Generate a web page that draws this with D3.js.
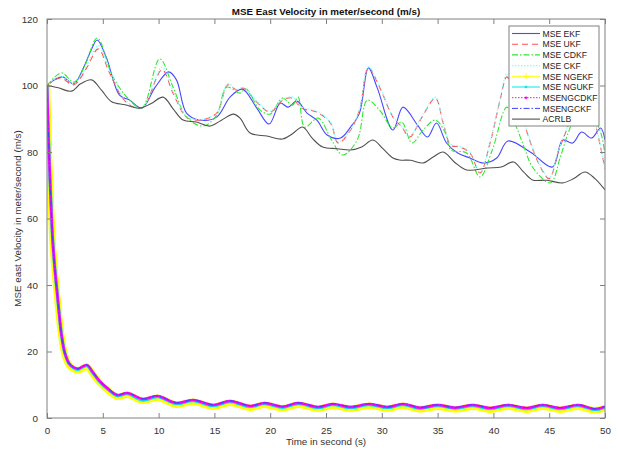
<!DOCTYPE html>
<html>
<head>
<meta charset="utf-8">
<script src="https://cdn.jsdelivr.net/npm/d3@7.9.0/dist/d3.min.js"></script>
<style>
  body { margin: 0; background: #fff; }
  svg { font-family: "Liberation Sans", Arial, sans-serif; }
</style>
</head>
<body>
<svg id="chart" width="619" height="450"></svg>
<script>
// upper curves: [time, mse]
const ekf = [[0,100],[0.7,101.8],[1.4,102.6],[2.4,100.5],[3.3,105.6],[4.0,111],[4.5,113.7],[5.3,108.6],[6.5,97.1],[7.4,95.6],[8.5,93.2],[9.7,99.5],[10.9,104.1],[11.6,101.7],[12.5,91.7],[13.7,89.6],[15.2,90.5],[16.4,96.5],[17.5,98.9],[18.8,93.2],[19.9,88.4],[20.9,94.7],[21.6,93.5],[22.4,95.3],[23.3,91.7],[24.2,89.5],[25.1,85.1],[26.3,84.2],[27.2,87.5],[28.0,91.7],[28.8,105.3],[29.6,99.2],[31.0,86.6],[31.9,93.5],[33.2,88.1],[34.1,84.5],[34.9,88.7],[35.8,82.7],[36.8,79.7],[37.9,78.2],[39.1,76.7],[40.3,78.2],[41.3,83.3],[43.3,80],[45.3,75.5],[46.2,83.6],[47.1,82.7],[47.9,86],[48.8,84.2],[49.6,87.2],[50,83.6]];
const ukf = [[0,100],[1.2,102.3],[2.4,100.2],[3.5,105],[4.6,111],[5.6,103.8],[7.1,95],[8.5,93.2],[10.3,104.7],[11.3,97.7],[12.5,90.5],[13.7,89.6],[15.2,91.7],[16.2,100.2],[17.0,98.6],[17.6,99.2],[18.8,95],[20.0,92],[21.1,95.6],[22.0,96.2],[22.8,93.2],[24.2,92],[25.4,88.7],[26.1,82.7],[27.2,86.6],[28.0,92.6],[28.8,105.3],[29.8,99.5],[31.0,90.5],[31.8,87.5],[32.5,84.5],[33.6,90.5],[34.8,96.2],[35.5,88.7],[36.2,82],[37.0,81.5],[37.9,79.7],[38.8,73.7],[39.7,82.7],[40.6,95.6],[41.2,102.6],[42.0,96],[43.0,86],[44.0,77],[45.0,72],[45.8,80],[46.6,87],[47.5,95],[48.5,96],[49.3,86],[50,75]];
const cdkf = [[0,100],[1.3,103.8],[2.4,101],[3.4,106],[4.5,114.3],[5.9,102.6],[7.4,95.6],[8.5,93.2],[10.1,108],[11.3,99.5],[12.5,90.5],[14.0,87.8],[15.2,91.1],[16.1,99.5],[17.3,97.7],[17.8,99],[19.1,92.6],[20.0,91.4],[21.1,96.2],[22.0,94.1],[22.5,96.5],[23.1,87.5],[24.3,90.2],[25.5,83.6],[26.5,79.1],[27.8,83.6],[28.7,95.6],[29.8,92.6],[31.0,87.2],[31.8,89],[32.7,82.7],[33.7,86.6],[34.8,89.6],[35.7,85.7],[36.2,80.6],[37.6,79.7],[38.8,72.5],[39.9,80.6],[41.2,93.5],[42.0,88],[42.8,81],[43.5,75.5],[45.1,70.7],[46.0,78.5],[46.7,85.7],[47.6,92],[48.6,92],[49.6,86],[50,79]];
const ckf = [[0,100],[1.2,102.8],[2.4,100.6],[3.5,105.5],[4.6,112],[5.6,104.5],[7.1,95.3],[8.5,93.2],[10.3,105.5],[11.3,98.2],[12.5,90.8],[13.7,89.8],[15.2,91.8],[16.2,100.5],[17.0,98.8],[17.6,99.4],[18.8,95.2],[20.0,92.3],[21.1,95.8],[22.0,96.5],[22.8,93.5],[24.2,92.2],[25.4,88.9],[26.1,83],[27.2,86.8],[28.0,92.8],[28.8,105.6],[29.8,99.8],[31.0,90.7],[31.8,87.8],[32.5,84.8],[33.6,90.8],[34.8,96.5],[35.5,88.9],[36.2,82.3],[37.0,81.7],[37.9,79.9],[38.8,74],[39.7,83],[40.6,96],[41.2,103.5],[42.0,96.5],[43.0,86.3],[44.0,77.3],[45.0,72.3],[45.8,80.3],[46.6,87.3],[47.5,95.3],[48.5,96.3],[49.3,86.3],[50,75.3]];
const acrlb = [[0,100],[1.0,99.3],[2.2,98.3],[3.0,100.5],[4.0,101.7],[4.9,98.5],[5.8,95.1],[7.0,94.2],[8.3,93.2],[9.3,94.5],[10.4,96.5],[11.3,93],[12.2,89.6],[13.4,89],[14.6,87.8],[15.6,89.5],[16.7,91.4],[17.3,90.2],[18.2,85.7],[19.7,84.8],[21.1,83.9],[22.0,85.5],[22.9,87.5],[23.8,84],[24.7,81.5],[26.0,81],[27.2,80.6],[28.2,81.5],[29.2,83.6],[30.1,81],[31.0,78.2],[31.6,77.6],[32.6,77.5],[33.7,76.7],[34.6,78.5],[35.5,80],[36.5,77],[37.6,74.6],[39.5,75.2],[40.7,75.5],[41.8,77],[42.7,74],[43.5,71.6],[44.8,71.5],[46.2,70.7],[47.2,72],[48.2,74],[49.1,72],[50,68.6]];

// lower (NG) curves share one time base
const ngTime = [0,0.1,0.2,0.3,0.4,0.5,0.7,0.9,1.1,1.3,1.6,2.0,2.4,2.8,3.2,3.6,4.1,4.7,5.4,6.3,7.2,8.6,9.9,11.6,13.1,14.9,16.4,18.2,19.5,21.1,22.5,24.3,25.6,27.2,28.9,30.5,31.9,33.4,35.0,36.6,38.2,39.7,41.3,43.0,44.4,46.0,47.6,49.1,50];
const ngekf = [100,87,77,68,60,53,44,37,30,24.5,19,15.8,14.7,14.3,15,15.4,13.3,10.7,8.5,6.4,7.0,5.2,6.1,4.0,4.9,3.4,4.6,3.1,4.0,2.9,4.0,2.8,3.7,2.8,3.7,2.8,3.7,2.6,3.4,2.6,3.4,2.5,3.4,2.5,3.4,2.5,3.4,2.3,3.0];
const ngukf = [100,88,78,69,61,54,45,38,31,25,19.5,16.2,15.0,14.6,15.3,15.7,13.6,11.0,8.8,6.7,7.3,5.4,6.4,4.3,5.2,3.7,4.9,3.4,4.3,3.2,4.3,3.1,4.0,3.1,4.0,3.1,4.0,2.9,3.7,2.9,3.7,2.8,3.7,2.8,3.7,2.8,3.7,2.5,3.2];
const ngcdkf = [100,88,78,69,61,54,45,38,31,25,19.5,16.3,15.2,14.8,15.5,15.9,13.8,11.2,9,6.9,7.5,5.7,6.6,4.5,5.4,3.9,5.1,3.6,4.5,3.4,4.5,3.3,4.2,3.3,4.2,3.3,4.2,3.1,3.9,3.1,3.9,3.0,3.9,3.0,3.9,3.0,3.9,2.7,3.4];
const ngckf = [100,88,78,69,61,54,45,38,31,25,19.5,16.4,15.3,14.9,15.6,16.0,13.9,11.3,9.1,7.0,7.6,5.8,6.7,4.6,5.5,4.0,5.2,3.7,4.6,3.5,4.6,3.4,4.3,3.4,4.3,3.4,4.3,3.2,4.0,3.2,4.0,3.1,4.0,3.1,4.0,3.1,4.0,2.8,3.5];

const xTicks = d3.range(0, 51, 5);
const yTicks = d3.range(0, 121, 20);
const legendNames = ['MSE EKF','MSE UKF','MSE CDKF','MSE CKF','MSE NGEKF','MSE NGUKF','MSENGCDKF','MSENGCKF','ACRLB'];

const W = 619, H = 450;
const m = {top: 19, right: 14, bottom: 32, left: 47};
const svg = d3.select('#chart');

const x = d3.scaleLinear().domain([0, 50]).range([m.left, W - m.right]);
const y = d3.scaleLinear().domain([0, 120]).range([H - m.bottom, m.top]);

const axisCol = '#808080', textCol = '#333';

// each series: data + style
const series = [
  {data: ekf, color: '#4848ff', w: 1.1, dash: null},
  {data: ukf, color: '#ff5050', w: 1.1, dash: '6,4'},
  {data: cdkf, color: '#30e830', w: 1.1, dash: '6,2,1.5,2'},
  {data: ckf, color: '#80ffff', w: 1.1, dash: '1.5,1.5'},
  {data: ngTime.map((t,i)=>[t, ngekf[i]]), color: '#ffff00', w: 6.5, dash: null},
  {data: ngTime.map((t,i)=>[t, ngukf[i]]), color: '#00e8e8', w: 3.2, dash: null},
  {data: ngTime.map((t,i)=>[t, ngcdkf[i]]), color: '#ff00ff', w: 2.6, dash: null},
  {data: ngTime.map((t,i)=>[t, ngckf[i]]), color: '#4040ff', w: 1, dash: '6,2,1.5,2'},
  {data: acrlb, color: '#505050', w: 1.1, dash: null}
];

const line = d3.line()
  .x(d => x(d[0]))
  .y(d => y(d[1]))
  .curve(d3.curveCatmullRom.alpha(0.5));

svg.append('defs').append('clipPath').attr('id','clip')
  .append('rect').attr('x', m.left).attr('y', m.top)
  .attr('width', W - m.left - m.right).attr('height', H - m.top - m.bottom);

const plot = svg.append('g').attr('clip-path','url(#clip)');
series.forEach(s => {
  plot.append('path')
    .attr('d', line(s.data))
    .attr('fill','none')
    .attr('stroke', s.color)
    .attr('stroke-width', s.w)
    .attr('stroke-dasharray', s.dash);
});

// box + inward ticks on all four sides
svg.append('rect').attr('x', m.left).attr('y', m.top)
  .attr('width', W - m.left - m.right).attr('height', H - m.top - m.bottom)
  .attr('fill','none').attr('stroke', axisCol).attr('stroke-width', 1);

const bottomAxis = d3.axisBottom(x).tickValues(xTicks).tickSizeInner(-5).tickSizeOuter(0).tickPadding(9);
const topAxis = d3.axisTop(x).tickValues(xTicks).tickSizeInner(-5).tickSizeOuter(0).tickFormat('');
const leftAxis = d3.axisLeft(y).tickValues(yTicks).tickSizeInner(-5).tickSizeOuter(0).tickPadding(9);
const rightAxis = d3.axisRight(y).tickValues(yTicks).tickSizeInner(-5).tickSizeOuter(0).tickFormat('');

function styleAxis(g) {
  g.select('.domain').remove();
  g.selectAll('.tick line').attr('stroke', axisCol);
  g.selectAll('.tick text').attr('fill', textCol).attr('font-size', 9.8)
    .attr('font-family', '"Liberation Sans", Arial, sans-serif');
}
svg.append('g').attr('transform', `translate(0,${H - m.bottom})`).call(bottomAxis).call(styleAxis);
svg.append('g').attr('transform', `translate(0,${m.top})`).call(topAxis).call(styleAxis);
svg.append('g').attr('transform', `translate(${m.left},0)`).call(leftAxis).call(styleAxis);
svg.append('g').attr('transform', `translate(${W - m.right},0)`).call(rightAxis).call(styleAxis);

// title and axis labels
const cx = (m.left + W - m.right) / 2;
svg.append('text').attr('x', cx).attr('y', 15).attr('text-anchor','middle')
  .attr('font-size', 9.8).attr('font-weight','bold').attr('fill','#111')
  .text('MSE East Velocity in meter/second (m/s)');
svg.append('text').attr('x', cx).attr('y', 445).attr('text-anchor','middle')
  .attr('font-size', 9.8).attr('fill', textCol)
  .text('Time in second (s)');
svg.append('text')
  .attr('transform', `translate(21,${(m.top + H - m.bottom) / 2}) rotate(-90)`)
  .attr('text-anchor','middle').attr('font-size', 9.8).attr('fill', textCol)
  .text('MSE east Velocity in meter/second (m/s)');

// legend
const lg = svg.append('g').attr('transform','translate(509,26)');
lg.append('rect').attr('width', 90).attr('height', 100)
  .attr('fill','#fff').attr('stroke','#808080').attr('stroke-width', 1);
const legendStyle = series.map((s, i) => ({
  color: s.color,
  dash: s.dash,
  w: (i >= 4 && i <= 6) ? 1 : s.w,
  marker: i === 4 ? 'plus' : (i === 5 || i === 6 ? 'dot' : null),
  dotted: i === 6
}));
legendNames.forEach((name, i) => {
  const st = legendStyle[i];
  const gy = 7.5 + i * 10.7;
  const row = lg.append('g').attr('transform', `translate(0,${gy})`);
  row.append('line').attr('x1', 3).attr('x2', 31).attr('y1', 0).attr('y2', 0)
    .attr('stroke', st.color).attr('stroke-width', st.w)
    .attr('stroke-dasharray', st.dotted ? '1.5,1.5' : st.dash);
  if (st.marker === 'plus') {
    row.append('path').attr('d','M14,0H20M17,-3V3').attr('stroke', st.color).attr('stroke-width', 1);
  } else if (st.marker === 'dot') {
    row.append('circle').attr('cx', 17).attr('cy', 0).attr('r', 1.3).attr('fill', st.color);
  }
  row.append('text').attr('x', 33.5).attr('y', 3.2)
    .attr('font-size', 8.6).attr('fill', '#222').text(name);
});
</script>
</body>
</html>
